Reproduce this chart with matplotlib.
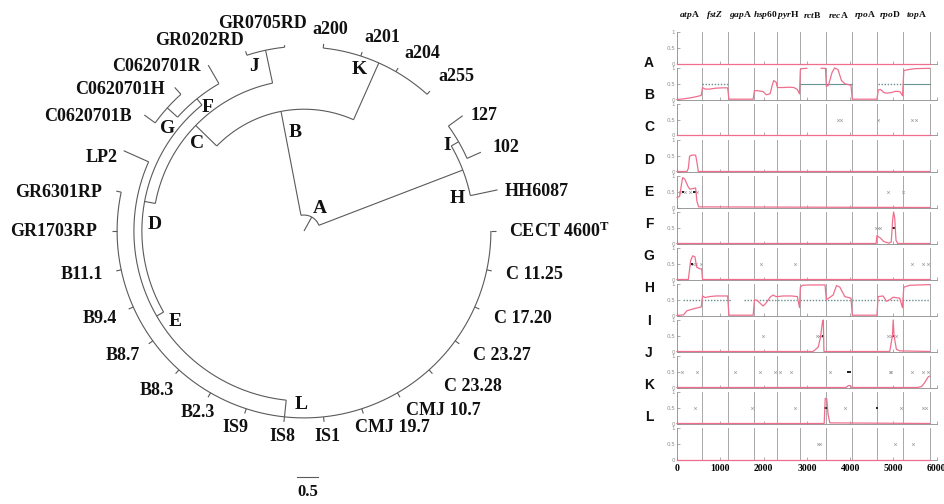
import matplotlib

matplotlib.use("Agg")

import matplotlib.pyplot as plt
import matplotlib.transforms as mtransforms
import numpy as np

plt.rcParams["font.family"] = ["Liberation Serif", "DejaVu Serif"]
plt.rcParams["mathtext.fontset"] = "custom"
plt.rcParams["mathtext.rm"] = "Liberation Serif:bold"
plt.rcParams["mathtext.it"] = "Liberation Serif:italic:bold"
plt.rcParams["mathtext.bf"] = "Liberation Serif:bold"

# ---- tree: tips listed counter-clockwise, evenly spaced around the circle
tip_names = [
    "HH6087", "102", "127", "a255", "a204", "a201", "a200", "GR0705RD",
    "GR0202RD", "C0620701R", "C0620701H", "C0620701B", "LP2", "GR6301RP",
    "GR1703RP", "B11.1", "B9.4", "B8.7", "B8.3", "B2.3", "IS9", "IS8", "IS1",
    "CMJ 19.7", "CMJ 10.7", "C 23.28", "C 23.27", "C 17.20", "C 11.25",
    r"CECT 4600$^{\mathrm{T}}$",
]
tip_parent = ["H", "I", "I", "K", "K", "K", "K", "J", "J", "F", "G", "G", "E"] + ["L"] * 17
tip_branch = [0.66, 0.36, 0.42, 0.10, 0.10, 0.10, 0.10, 0.05, 0.10, 0.51, 0.22, 0.32, 0.65] + [0.12] * 17

node_names = ["A", "B", "H", "K", "C", "I", "J", "D", "F", "G", "E", "L"]
node_parent = [None, "A", "A", "B", "B", "H", "C", "C", "D", "F", "D", "E"]
node_branch = [0.38, 2.52, 3.67, 1.48, 0.70, 0.20, 0.80, 0.26, 0.19, 0.33, 0.19, 0.40]

scale_len = 0.5

# ---- per-gene recombination profiles (alignment position, probability)
genes = [r"$\mathit{atp}$A", r"$\mathit{fstZ}$", r"$\mathit{gap}$A", r"$\mathit{hsp}$60",
         r"$\mathit{pyr}$H", r"$\mathit{rct}$B", r"$\mathit{rec}$A", r"$\mathit{rpo}$A",
         r"$\mathit{rpo}$D", r"$\mathit{top}$A"]
gene_ends = [570, 1184, 1777, 2300, 2838, 3438, 4032, 4632, 5223, 5838]
panel_letters = ["A", "B", "C", "D", "E", "F", "G", "H", "I", "J", "K", "L"]
nan = np.nan

prof_A = ([0, 5838], [0, 0])
prof_B = ([0, 150, 300, 450, 560, 590, 650, 750, 900, 1050, 1170, 1200, 1500, 1760,
           1790, 1870, 1990, 2060, 2150, 2200, 2235, 2290, 2320, 2450, 2600, 2700, 2780, 2830,
           2850, 2880, 3000, nan, 3330, 3430, 3450, 3500, 3580, 3640, 3720, 3800, 3880, 4020,
           4050, 4300, 4620, 4650, 4700, 4780, 4850, 4950, 5050, 5150, 5210, 5240, 5350, 5500, 5838],
          [0, 0.02, 0.05, 0.09, 0.13, 0.38, 0.33, 0.33, 0.36, 0.37, 0.37, 0.01, 0.01, 0.01,
           0.28, 0.28, 0.25, 0.15, 0.18, 0.45, 0.6, 0.55, 0.38, 0.38, 0.39, 0.38, 0.32, 0.18,
           0.95, 0.98, 0.99, nan, 0.99, 0.99, 0.42, 0.45, 0.85, 1.0, 0.95, 0.6, 0.5, 0.45,
           0.01, 0.01, 0.01, 0.3, 0.32, 0.22, 0.2, 0.22, 0.26, 0.25, 0.12, 0.92, 0.95, 0.98, 0.99])
prof_C = ([0, 5838], [0, 0])
prof_D = ([0, 230, 262, 290, 338, 430, 460, 492, 5838],
          [0, 0, 0.1, 0.48, 0.52, 0.52, 0.3, 0.0, 0])
prof_E = ([0, 60, 100, 130, 180, 260, 300, 360, 430, 460, 500, 5838],
          [0.32, 0.35, 0.7, 0.95, 0.9, 0.65, 0.58, 0.6, 0.62, 0.2, 0.02, 0])
prof_F = ([0, 4600, 4620, 4700, 4780, 4900, 4950, 4985, 5005, 5030, 5060, 5100, 5838],
          [0, 0, 0.25, 0.17, 0.06, 0.01, 0.05, 0.8, 1.0, 0.8, 0.1, 0, 0])
prof_G = ([0, 262, 315, 362, 415, 454, 530, 570, 590, 5838],
          [0, 0, 0.6, 0.75, 0.72, 0.39, 0.34, 0.34, 0, 0])
prof_H = ([0, 150, 230, 400, 560, 590, 650, 750, 900, 1170, 1200, 1500, 1760,
           1790, 1850, 1990, 2060, 2150, 2220, 2290, 2320, 2450, 2650, 2780, 2830,
           2850, 2900, 3100, 3420, 3450, 3608, 3685, 3762, 3877, 4020, 4050, 4300, 4620,
           4646, 4762, 4838, 4915, 4992, 5146, 5208, 5240, 5380, 5838],
          [0, 0.02, 0.15, 0.22, 0.27, 0.62, 0.57, 0.6, 0.62, 0.62, 0.01, 0.01, 0.01,
           0.5, 0.48, 0.3, 0.4, 0.58, 0.65, 0.6, 0.6, 0.62, 0.62, 0.6, 0.25,
           0.9, 0.96, 0.97, 0.97, 0.5, 0.65, 0.95, 0.9, 0.6, 0.55, 0.01, 0.01, 0.01,
           0.6, 0.62, 0.45, 0.5, 0.58, 0.55, 0.25, 0.9, 0.96, 0.98])
prof_I = ([0, 3146, 3262, 3315, 3362, 3380, 3395, 4915, 4977, 4995, 5015, 5069, 5146, 5838],
          [0, 0, 0.14, 0.45, 0.95, 1.0, 0, 0, 0.5, 1.0, 0.5, 0.07, 0.02, 0])
prof_J = ([0, 3900, 3960, 4000, 4040, 5550, 5650, 5720, 5800, 5838],
          [0, 0, 0.06, 0.06, 0, 0, 0.03, 0.15, 0.33, 0.36])
prof_K = ([0, 3400, 3425, 3460, 3490, 3530, 5838],
          [0, 0, 0.8, 0.78, 0.3, 0.02, 0])
prof_L = ([0, 5838], [0, 0])
profiles = [prof_A, prof_B, prof_C, prof_D, prof_E, prof_F, prof_G, prof_H,
            prof_I, prof_J, prof_K, prof_L]

# informative sites flagged at 0.5 (light and dark marks)
sites_light = [[], [], [3720, 3790, 4640, 5440, 5520], [],
               [70, 190, 300, 470, 4880, 5230], [4600, 4650, 4700],
               [330, 380, 430, 550, 1940, 2720, 5420, 5680, 5800], [],
               [1990, 3230, 3280, 3320, 4870, 4950, 5060],
               [108, 454, 1338, 1915, 2262, 2377, 2623, 3531, 4915, 4954, 5438, 5685, 5800],
               [415, 1723, 2723, 3877, 5185, 5685, 5762],
               [3262, 3300, 5031, 5454]]
sites_dark = [[], [], [], [], [140, 150, 400, 420], [5000, 5015], [350], [],
              [3370, 4995], [3954, 3992], [3430, 3450, 3470, 4631], []]
mid_solid = {1: [(2840, 4040), (5230, 5838)]}
mid_dotted = {1: [(570, 1180), (4640, 5220)],
              7: [(150, 1250), (1550, 2780), (2840, 4600), (4640, 5838)]}

# ---------------------------------------------------------------------------
fig = plt.figure(figsize=(9.45, 5.04), dpi=100)
fig.patch.set_facecolor("white")
FW, FH = 945.0, 504.0

# ---- tree layout
children = {}
for n, p in zip(node_names, node_parent):
    children.setdefault(p, []).append(n)
for n, p in zip(tip_names, tip_parent):
    children.setdefault(p, []).append(n)

depth, angle = {}, {}
branch = dict(zip(node_names, node_branch))
branch.update(zip(tip_names, tip_branch))
parent = dict(zip(node_names, node_parent))
parent.update(zip(tip_names, tip_parent))
step = 360.0 / len(tip_names)
for i, n in enumerate(tip_names):
    angle[n] = step * (i + 1)


def set_depth(n, d):
    depth[n] = d + branch[n]
    for c in children.get(n, []):
        set_depth(c, depth[n])


def set_angle(n):
    if n in angle:
        return angle[n]
    a = [set_angle(c) for c in children[n]]
    angle[n] = (min(a) + max(a)) / 2.0
    return angle[n]


set_depth("A", 0.0)
set_angle("A")

unit = 42.0
cx, cy = 304.0, 231.0
tree_w = 600.0
tax = fig.add_axes([0, 0, tree_w / FW, 1])
tax.set_xlim(-cx / unit, (tree_w - cx) / unit)
tax.set_ylim(-(FH - cy) / unit, cy / unit)
tax.axis("off")

line_kw = dict(color="#5a5a5a", lw=0.8, solid_capstyle="butt")


def polar(r, a):
    t = np.deg2rad(a)
    return r * np.cos(t), r * np.sin(t)


for n in node_names + tip_names:
    r0 = depth[parent[n]] if parent[n] else 0.0
    x0, y0 = polar(r0, angle[n])
    x1, y1 = polar(depth[n], angle[n])
    tax.plot([x0, x1], [y0, y1], **line_kw)
for n in node_names:
    a = [angle[c] for c in children[n]]
    th = np.linspace(min(a), max(a), 200)
    xs, ys = polar(depth[n], th)
    tax.plot(xs, ys, **line_kw)

# tip labels: anchored outward from each tip, alignment follows the angle
label_nudge = {"GR0705RD": (-6, 7), "127": (-3, -12), "HH6087": (-6, -2), "LP2": (8, -5),
               "B2.3": (4, -2), "B8.3": (3, -4), "IS9": (-5, 0), "IS8": (-4, 0),
               "IS1": (-6, 0), "CMJ 10.7": (6, 0), "CMJ 19.7": (3, 0)}
renderer = fig.canvas.get_renderer()
for n in tip_names:
    c, s = np.cos(np.deg2rad(angle[n])), np.sin(np.deg2rad(angle[n]))
    t = tax.annotate(n, xy=polar(depth[n], angle[n]), xytext=(0, 0),
                     textcoords="offset pixels", ha="center", va="center",
                     fontsize=13, fontweight="bold", color="#111111")
    bb = t.get_window_extent(renderer)
    w, h = bb.width, bb.height
    if s > 1e-6:
        fx = np.clip(3.0 * c, -1, 1)
        if c >= 0:
            fy = np.clip(3.0 * (s - 0.3), 0, 1)
        else:
            fy = np.clip(10.0 * (s - 0.88), -0.12, 1)
        dx = (13 if c >= 0 else 15) * c + fx * w / 2
        dy = fy * (h / 2 + 6)
    else:
        fx = np.clip(1.4 * c, -1, 1)
        fy = np.clip(3.0 * (s + 0.12), -1, 0)
        dx = (13 if c >= 0 else 15) * c + fx * w / 2 + 6 * abs(s)
        dy = 6 * s + fy * h / 2
    nx, ny = label_nudge.get(n, (0, 0))
    t.xyann = (dx + nx, dy + ny)

clade_shift = {"A": (-6, 12), "B": (-6, -23), "H": (-9, -13), "F": (-1, -13),
               "D": (8, -13), "I": (1, -12)}
for n in node_names:
    da, dr = clade_shift.get(n, (5, -13))
    tax.text(*polar(depth[n] + dr / unit, angle[n] + da), n, ha="center", va="center",
             fontsize=14, fontweight="bold", color="#111111")

bar_y = (cy - 477) / unit
bar_x0 = (297 - cx) / unit
tax.plot([bar_x0, bar_x0 + scale_len], [bar_y, bar_y], color="#5a5a5a", lw=0.8)
tax.text(bar_x0 + scale_len / 2, bar_y - 15 / unit, f"{scale_len}", ha="center", va="center",
         fontsize=12, fontweight="bold", color="#111111")

# ---- recombination panels
pink = "#ee6f8d"
left_px, width_px = 677.0, 259.7
top0, pitch, height_px = 32.0, 36.0, 31.5
axes = []
for i, (xs, ys) in enumerate(profiles):
    top = top0 + pitch * i
    ax = fig.add_axes([left_px / FW, 1 - (top + height_px) / FH, width_px / FW, height_px / FH])
    axes.append(ax)
    ax.set_xlim(0, 6000)
    ax.set_ylim(0, 1)
    for b in gene_ends:
        ax.axvline(b, color="#a8a8a8", lw=0.7, zorder=1)
    for a0, a1 in mid_solid.get(i, []):
        ax.plot([a0, a1], [0.5, 0.5], color="#6a9494", lw=0.8, zorder=2)
    for a0, a1 in mid_dotted.get(i, []):
        ax.plot([a0, a1], [0.5, 0.5], color="#6a8c8c", lw=1.0, ls=(0, (1, 1.2)), zorder=2)
    if sites_light[i]:
        ax.plot(sites_light[i], [0.5] * len(sites_light[i]), ls="none", marker="x",
                ms=1.8, mew=0.5, color="#a0a0a0", zorder=3)
    if sites_dark[i]:
        ax.plot(sites_dark[i], [0.5] * len(sites_dark[i]), ls="none", marker="s",
                ms=1.8, mew=0, color="#222222", zorder=3)
    ax.plot(xs, ys, color=pink, lw=0.9, zorder=4, clip_on=False)
    for side in ("top", "right"):
        ax.spines[side].set_visible(False)
    for side in ("left", "bottom"):
        ax.spines[side].set_color("#8a8a8a")
        ax.spines[side].set_linewidth(0.6)
    ax.set_yticks([0, 0.5, 1])
    ax.set_yticklabels(["0", "0.5", "1"], fontsize=4, color="#8a8a8a", family="DejaVu Sans")
    ax.set_xticks(np.arange(0, 6001, 1000))
    ax.tick_params(direction="in", length=2, width=0.5, color="#8a8a8a", pad=1.5)
    ax.tick_params(axis="x", labelbottom=(i == len(profiles) - 1), labelsize=7, pad=3)
    for lab in ax.get_xticklabels():
        lab.set_fontweight("bold")

    fig.text(649 / FW, 1 - (63 + 32.2 * i) / FH, panel_letters[i], ha="center", va="center",
             fontsize=10, fontweight="bold", family="Liberation Sans", color="#111111")

gene_tr = mtransforms.blended_transform_factory(axes[0].transData, fig.transFigure)
starts = [0] + gene_ends[:-1]
for g, a0, a1 in zip(genes, starts, gene_ends):
    axes[0].text((a0 + a1) / 2, 1 - 15 / FH, g, transform=gene_tr, ha="center", va="center",
                 fontsize=6.8, fontweight="bold", color="#111111")

fig.savefig("out.png", dpi=100, facecolor="white")
